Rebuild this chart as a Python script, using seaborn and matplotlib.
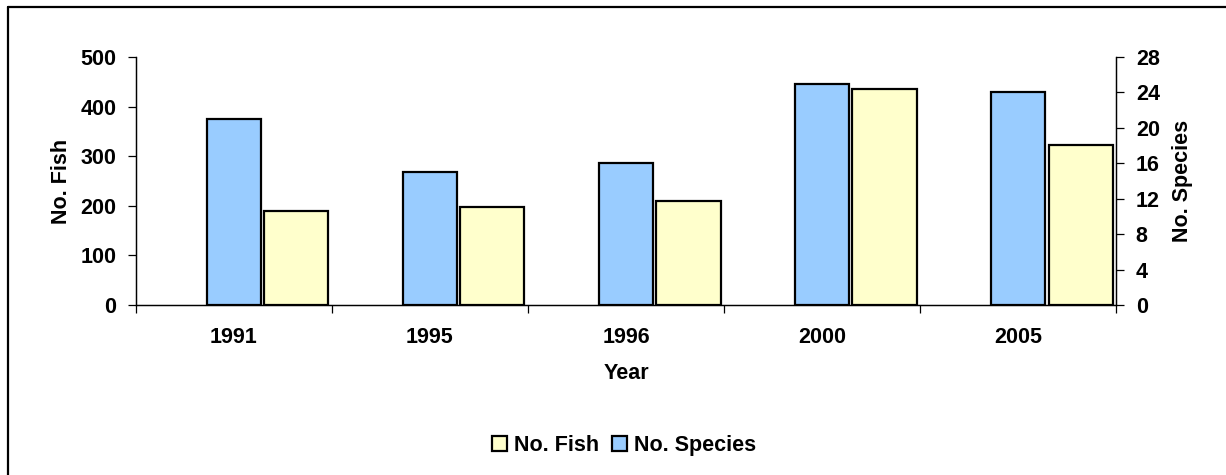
import numpy as np
import pandas as pd
import matplotlib
matplotlib.use("Agg")
import matplotlib.pyplot as plt
from matplotlib.patches import Patch
from matplotlib.lines import Line2D
import seaborn as sns

# Survey results per year
years = ["1991", "1995", "1996", "2000", "2005"]
no_fish = [189, 197, 209, 436, 322]
no_species = [21, 15, 16, 25, 24]

fish_ticks = [0, 100, 200, 300, 400, 500]
species_ticks = [0, 4, 8, 12, 16, 20, 24, 28]

sns.set_theme(style="white")
plt.rcParams["font.family"] = ["Liberation Sans", "DejaVu Sans"]
plt.rcParams["font.weight"] = "bold"
plt.rcParams["axes.labelweight"] = "bold"
for key in ("text.color", "axes.labelcolor", "xtick.color", "ytick.color"):
    plt.rcParams[key] = "black"

FS = 15.5
BLUE = "#99CCFF"
YELLOW = "#FFFFCC"

df = pd.DataFrame({"year": years, "fish": no_fish, "species": no_species})
df["pos"] = np.arange(len(years))

fig = plt.figure(figsize=(12.26, 4.75), dpi=100)
ax = fig.add_axes([0.1107, 0.3579, 0.7999, 0.5221])
ax2 = ax.twinx()

# Species bars centred on each year (secondary axis)
sns.barplot(data=df.assign(x=df["pos"].astype(float)), x="x", y="species",
            native_scale=True, width=0.277, color=BLUE, saturation=1,
            edgecolor="black", linewidth=1.6, ax=ax2)
# Fish bars set to the right of each year (primary axis)
sns.barplot(data=df.assign(x=df["pos"] + 0.318), x="x", y="fish",
            native_scale=True, width=0.328, color=YELLOW, saturation=1,
            edgecolor="black", linewidth=1.6, ax=ax)

for a in (ax, ax2):
    a.set_xlim(-0.5, len(years) - 0.5)
    a.set_facecolor("none")
    for s in a.spines.values():
        s.set_color("black")
        s.set_linewidth(0.9)
    a.spines["top"].set_visible(False)

ax.set_ylim(0, 500)
ax.set_yticks(fish_ticks)
ax2.set_ylim(0, 28)
ax2.set_yticks(species_ticks)

ax.set_xticks(np.arange(len(years)))
ax.set_xticklabels(years)
ax.set_xticks(np.arange(len(years) + 1) - 0.5, minor=True)
ax.tick_params(axis="x", which="major", length=0, pad=16, labelsize=FS)
ax.tick_params(axis="x", which="minor", length=6, width=0.9, color="black",
               direction="out", bottom=True)
ax.tick_params(axis="y", length=6, width=0.9, color="black", direction="out",
               left=True, labelsize=FS, pad=8)
ax2.tick_params(axis="y", length=6, width=0.9, color="black", direction="out",
                right=True, labelsize=FS, pad=8)
ax2.tick_params(axis="x", length=0, labelbottom=False)
ax2.set_xlabel("")

for lab in ax.get_xticklabels() + ax.get_yticklabels() + ax2.get_yticklabels():
    lab.set_fontweight("bold")

ax.set_xlabel("Year", fontsize=FS, fontweight="bold", labelpad=11)
ax.set_ylabel("No. Fish", fontsize=FS, fontweight="bold", labelpad=6)
ax2.set_ylabel("No. Species", fontsize=FS, fontweight="bold", labelpad=9)

handles = [Patch(facecolor=YELLOW, edgecolor="black", linewidth=1.6, label="No. Fish"),
           Patch(facecolor=BLUE, edgecolor="black", linewidth=1.6, label="No. Species")]
fig.legend(handles=handles, loc="center", bbox_to_anchor=(0.509, 0.063), ncol=2,
           frameon=False, prop={"size": FS, "weight": "bold"},
           handlelength=0.7, handleheight=0.7, handletextpad=0.3,
           columnspacing=0.6)

# Chart area frame
fig.add_artist(Line2D([0.0065, 1.0], [0.9855, 0.9855], color="black", lw=1.6,
                      transform=fig.transFigure))
fig.add_artist(Line2D([0.0065, 0.0065], [0.0, 0.9855], color="black", lw=1.6,
                      transform=fig.transFigure))

fig.savefig("out.png", dpi=100, facecolor="white")
